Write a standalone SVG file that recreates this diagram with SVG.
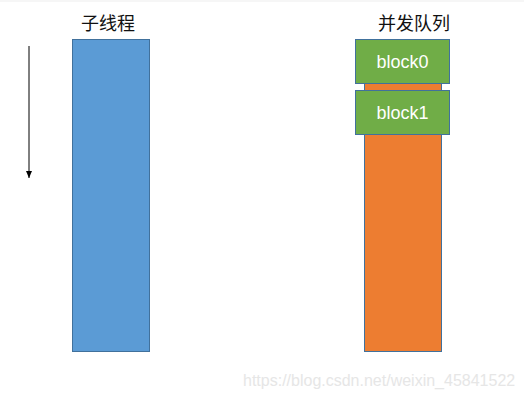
<svg xmlns="http://www.w3.org/2000/svg" width="524" height="400" viewBox="0 0 524 400">
<defs>
<marker id="ah" markerWidth="8" markerHeight="8" refX="7" refY="4" orient="auto" markerUnits="userSpaceOnUse">
<path d="M0,1 L7,4 L0,7 Z" fill="#000"/>
</marker>
<style>
.title{font-family:"Noto Sans CJK SC","Noto Sans",sans-serif;font-size:18px;fill:#111;text-anchor:middle}
.blk{fill:#70ad47;stroke:#41719c;stroke-width:1}
.lbl{font-family:"Liberation Sans",Arial,sans-serif;font-size:18px;fill:#fff;text-anchor:middle}
.wm{font-family:"Liberation Sans",Arial,sans-serif;font-size:16px;fill:#e6e6e6}
</style>
</defs>
<rect x="0" y="0" width="524" height="400" fill="#fff"/>
<rect x="0" y="0" width="524" height="2" fill="#f6f6f6"/>
<g id="connectors">
<line x1="29" y1="46" x2="29" y2="178" stroke="#000" stroke-width="1" marker-end="url(#ah)"/>
</g>
<g id="thread">
<rect x="72.5" y="39.5" width="77" height="312" fill="#5b9bd5" stroke="#41719c" stroke-width="1"/>
<text class="title" x="108" y="30">子线程</text>
</g>
<g id="queue">
<rect x="364.5" y="39.5" width="77" height="312" fill="#ed7d31" stroke="#41719c" stroke-width="1"/>
<text class="title" x="414" y="30">并发队列</text>
</g>
<g id="block0">
<rect class="blk" x="355.5" y="39.5" width="94" height="44"/>
<text class="lbl" x="402.5" y="68">block0</text>
</g>
<g id="block1">
<rect class="blk" x="355.5" y="90.5" width="94" height="44"/>
<text class="lbl" x="402.5" y="119">block1</text>
</g>
<text class="wm" x="243" y="386">https://blog.csdn.net/weixin_45841522</text>
</svg>
